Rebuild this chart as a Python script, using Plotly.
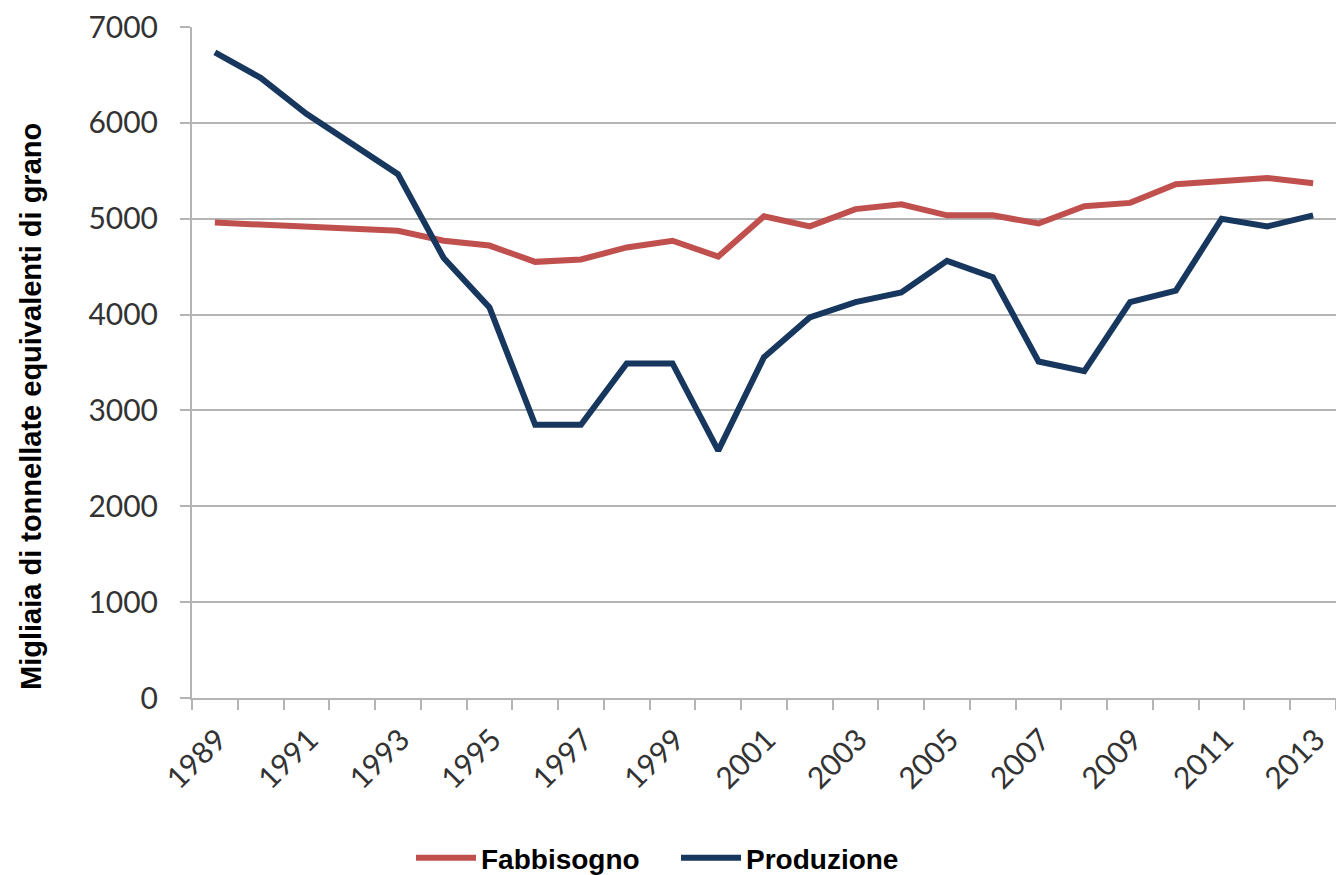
import plotly.graph_objects as go

years = list(range(1989, 2014))
fabbisogno = [4960, 4940, 4910, 4890, 4875, 4770, 4720, 4550, 4575, 4700,
              4770, 4605, 5025, 4920, 5100, 5150, 5035, 5035, 4950, 5130,
              5165, 5360, 5385, 5425, 5370]
produzione = [6735, 6470, 6095, 5785, 5465, 4590, 4075, 2850, 2850, 3490,
              3490, 2580, 3555, 3970, 4130, 4230, 4560, 4390, 3510, 3410,
              4130, 4250, 5000, 4920, 5035]
tick_years = list(range(1989, 2014, 2))
y_ticks = [0, 1000, 2000, 3000, 4000, 5000, 6000, 7000]

RED = "#C0504D"
BLUE = "#17375E"
GRID = "#B4B4B4"
TXT = "#333333"
BOLD_FONT = "Liberation Sans, Arial, sans-serif"

fig = go.Figure()
fig.add_trace(go.Scatter(x=years, y=fabbisogno, mode="lines", name="Fabbisogno",
                         line=dict(color=RED, width=6)))
fig.add_trace(go.Scatter(x=years, y=produzione, mode="lines", name="Produzione",
                         line=dict(color=BLUE, width=6)))

fig.update_layout(
    width=1336, height=875,
    margin=dict(l=192, r=0, t=27, b=177),
    plot_bgcolor="white", paper_bgcolor="white",
    showlegend=True,
    legend=dict(orientation="h", xref="container", yref="container",
                x=411 / 1336, xanchor="left",
                y=(875 - 858) / 875, yanchor="middle",
                font=dict(family=BOLD_FONT, size=28, color="#000000", weight="bold"),
                itemwidth=60, tracegroupgap=0,
                entrywidth=190, entrywidthmode="pixels"),
    font=dict(family="Lato, Liberation Sans, sans-serif", color=TXT),
)
fig.update_xaxes(
    range=[1988.5, 2013.5], automargin=False,
    tickmode="array", tickvals=tick_years, ticktext=[str(y) for y in tick_years],
    tickangle=-45, ticks="", tickfont=dict(size=30, color=TXT),
    ticklabelstandoff=10, ticklabelshift=3,
    showgrid=False, zeroline=False,
    showline=True, linecolor=GRID, linewidth=2,
    minor=dict(tick0=1988.5, dtick=1, ticks="outside", ticklen=10, tickcolor=GRID,
               tickwidth=2, showgrid=False),
)
fig.update_yaxes(
    range=[0, 7000], tickmode="array", tickvals=y_ticks, automargin=False,
    ticks="outside", ticklen=10, tickcolor=GRID, tickwidth=2,
    ticklabelstandoff=16,
    tickfont=dict(size=30, color=TXT),
    showgrid=True, gridcolor=GRID, gridwidth=2,
    zeroline=False, showline=True, linecolor=GRID, linewidth=2,
)
fig.add_annotation(
    text="Migliaia di tonnellate equivalenti di grano",
    xref="paper", yref="paper", x=(31 - 192) / 1144, y=(698 - 407) / 671,
    xanchor="center", yanchor="middle", textangle=-90, showarrow=False,
    font=dict(family=BOLD_FONT, size=29, color="#000000", weight="bold"),
)
fig.write_html("out.html", post_script="document.body.style.margin='0';",
               config={"displayModeBar": False})
